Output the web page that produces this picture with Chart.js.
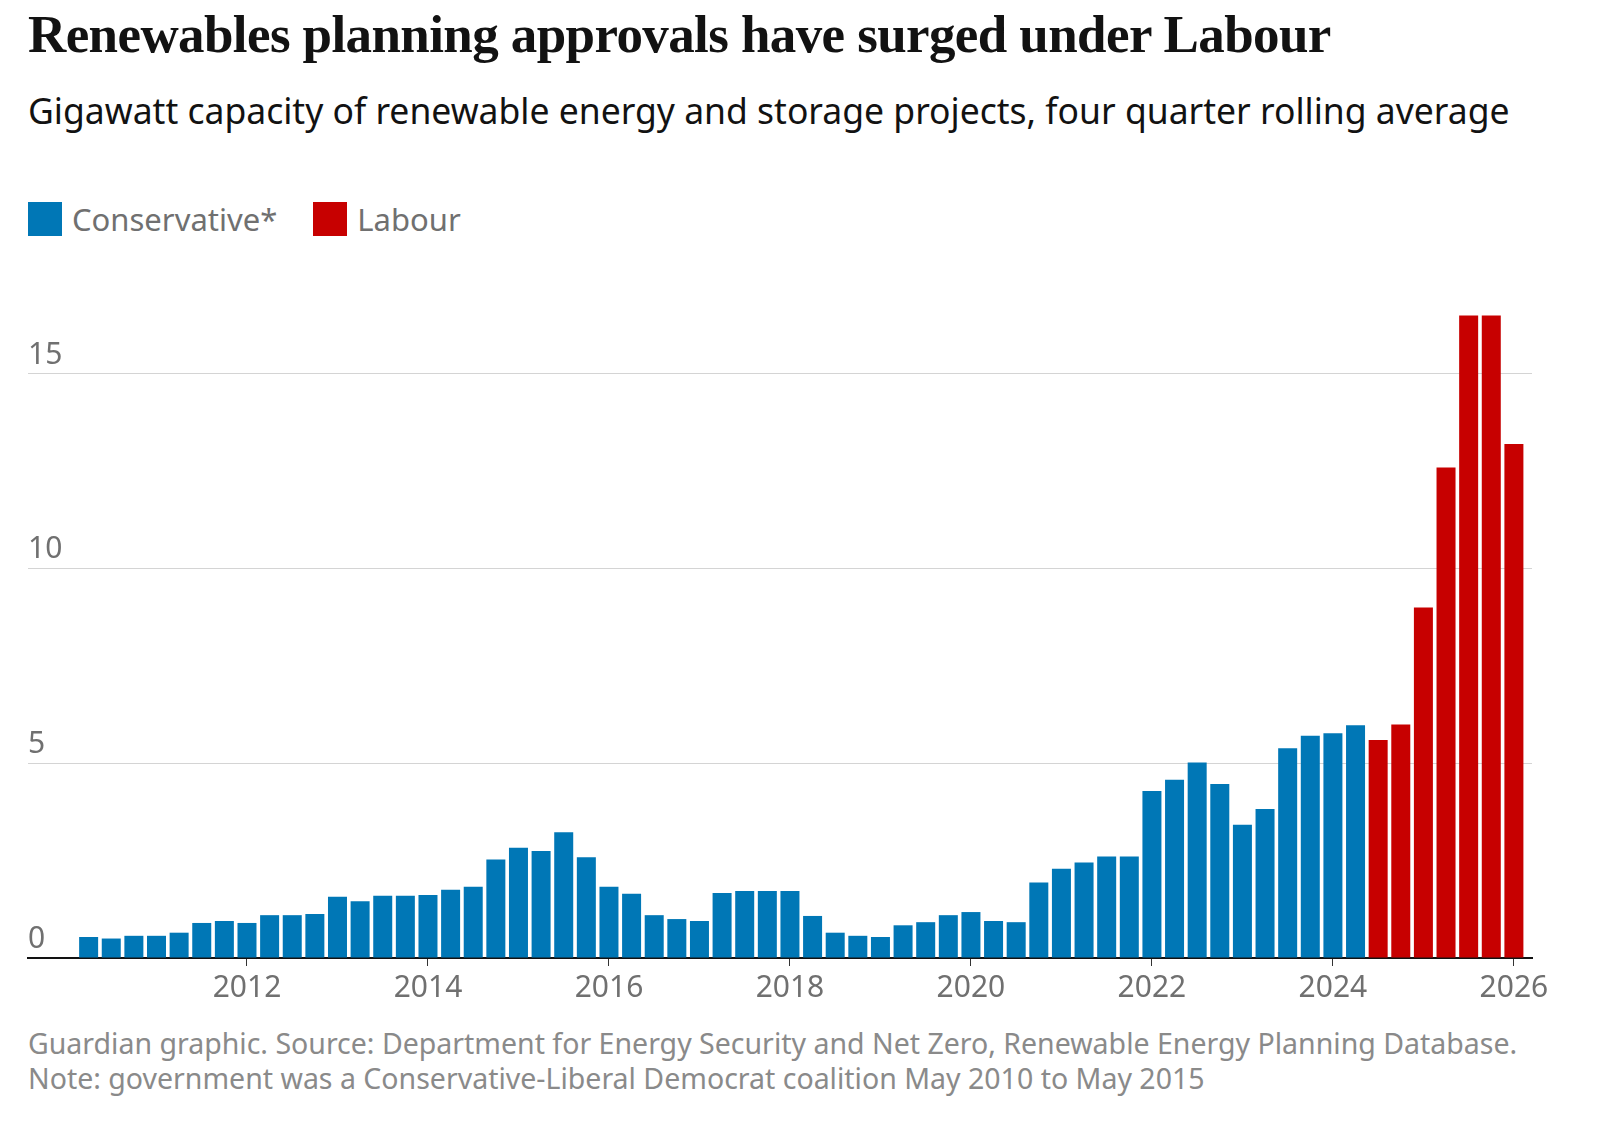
<!DOCTYPE html>
<html>
<head>
<meta charset="utf-8">
<script src="https://cdn.jsdelivr.net/npm/chart.js@4"></script>
<style>
body { margin: 0; width: 1600px; height: 1138px; background: #fff; font-family: 'Noto Sans', sans-serif; position: relative; overflow: hidden; }
h1 { position: absolute; left: 28px; top: 4px; margin: 0; font: bold 53px 'Liberation Serif', serif; letter-spacing: -0.6px; color: #121212; }
.sub { position: absolute; left: 28px; top: 86px; font-size: 35.5px; color: #121212; }
.legend { position: absolute; left: 28px; top: 198px; font-size: 31px; color: #707070; display: flex; align-items: center; }
.legend span.sw { display: inline-block; width: 34px; height: 34px; margin-right: 10px; }
.legend span.lab { margin-right: 36px; }
#wrap { position: absolute; left: 0; top: 290px; width: 1600px; height: 720px; }
.foot { position: absolute; left: 28px; top: 1026px; font-size: 28.5px; color: #8a8a8a; line-height: 35px; }
</style>
</head>
<body>
<h1>Renewables planning approvals have surged under Labour</h1>
<div class="sub">Gigawatt capacity of renewable energy and storage projects, four quarter rolling average</div>
<div class="legend"><span class="sw" style="background:#0077b6"></span><span class="lab">Conservative*</span><span class="sw" style="background:#c70000"></span><span class="lab">Labour</span></div>
<div id="wrap"><canvas id="chart"></canvas></div>
<div class="foot">Guardian graphic. Source: Department for Energy Security and Net Zero, Renewable Energy Planning Database.<br>Note: government was a Conservative-Liberal Democrat coalition May 2010 to May 2015</div>
<script>
// quarters run from 2010.25 to 2026.0 in steps of 0.25
const firstQuarter = 2010.25;
const conservative = [0.54, 0.5, 0.57, 0.57, 0.65, 0.9, 0.95, 0.9, 1.1, 1.1, 1.13, 1.57, 1.46, 1.6, 1.6, 1.62,
    1.75, 1.83, 2.53, 2.83, 2.75, 3.23, 2.59, 1.83, 1.65, 1.1, 1.0, 0.95, 1.67, 1.72, 1.72, 1.72,
    1.08, 0.65, 0.57, 0.54, 0.84, 0.92, 1.1, 1.18, 0.95, 0.92, 1.94, 2.29, 2.45, 2.61, 2.61, 4.29,
    4.58, 5.02, 4.47, 3.42, 3.83, 5.39, 5.71, 5.77, 5.98];
const labour = [5.6, 6.0, 9.0, 12.6, 16.5, 16.5, 13.2];
const yearTicks = [2012, 2014, 2016, 2018, 2020, 2022, 2024, 2026];
const valueTicks = [0, 5, 10, 15];

const conData = conservative.map((v, i) => ({x: firstQuarter + i * 0.25, y: v}));
const labData = labour.map((v, i) => ({x: firstQuarter + (conservative.length + i) * 0.25, y: v}));

const yLabels = {
    id: 'yLabels',
    afterDraw(chart) {
        const ctx = chart.ctx;
        const y = chart.scales.y;
        ctx.save();
        ctx.font = '30px "Noto Sans"';
        ctx.fillStyle = '#707070';
        ctx.textBaseline = 'bottom';
        valueTicks.forEach(t => ctx.fillText(String(t), 28, y.getPixelForValue(t) - 4));
        ctx.restore();
    }
};

new Chart(document.getElementById('chart'), {
    type: 'bar',
    data: {
        datasets: [
            {label: 'Conservative*', data: conData, backgroundColor: '#0077b6'},
            {label: 'Labour', data: labData, backgroundColor: '#c70000'}
        ]
    },
    options: {
        responsive: true,
        maintainAspectRatio: false,
        animation: false,
        layout: {padding: {left: 28, right: 68, top: 10}},
        datasets: {bar: {grouped: false, barPercentage: 0.84, categoryPercentage: 1}},
        plugins: {legend: {display: false}, tooltip: {enabled: false}},
        scales: {
            x: {
                type: 'linear',
                offset: false,
                min: 2009.58,
                max: 2026.2,
                afterBuildTicks: axis => { axis.ticks = yearTicks.map(v => ({value: v})); },
                grid: {offset: false, drawOnChartArea: false, tickLength: 8, color: '#333'},
                border: {color: '#121212', width: 2},
                ticks: {font: {size: 30, family: 'Noto Sans'}, color: '#707070', padding: 4, maxRotation: 0,
                    callback: v => String(v)}
            },
            y: {
                min: 0,
                max: 16.9,
                afterBuildTicks: axis => { axis.ticks = valueTicks.map(v => ({value: v})); },
                ticks: {display: false},
                grid: {color: '#d4d4d4', drawTicks: false},
                border: {display: false}
            }
        }
    },
    plugins: [yLabels]
});
</script>
</body>
</html>
